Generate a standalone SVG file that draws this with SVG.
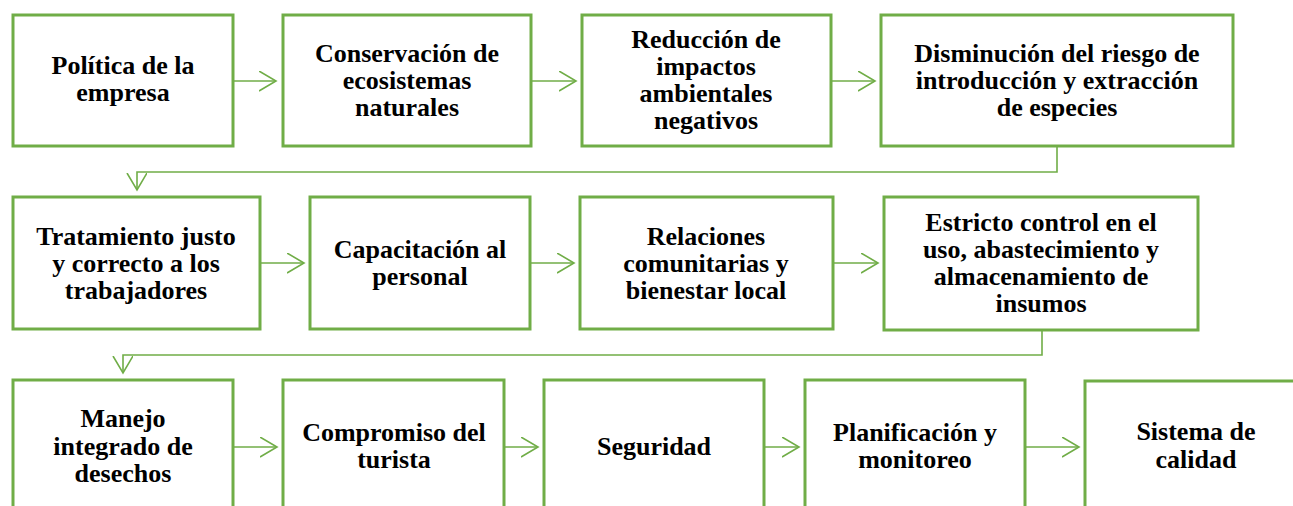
<svg xmlns="http://www.w3.org/2000/svg" width="1293" height="506" viewBox="0 0 1293 506">
<style>
.box{fill:#fff;stroke:#70AD47;stroke-width:3}
.t{font-family:"Liberation Serif","Times New Roman",serif;font-weight:bold;font-size:26px;fill:#000;text-anchor:middle}
.c{fill:none;stroke:#70AD47;stroke-width:1.6}
</style>
<defs>
<marker id="ah" markerUnits="userSpaceOnUse" markerWidth="20" markerHeight="24" refX="17" refY="10" orient="auto" viewBox="0 0 20 24">
<path d="M0,0 L17,10 L0,20" fill="none" stroke="#70AD47" stroke-width="1.6"/>
</marker>
</defs>
<rect width="1293" height="506" fill="#fff"/>
<g id="n1"><rect class="box" x="13" y="15" width="220" height="131"/><text class="t" x="123" y="74">Política de la</text><text class="t" x="123" y="101">empresa</text></g>
<g id="n2"><rect class="box" x="283" y="15" width="248" height="131"/><text class="t" x="407" y="62">Conservación de</text><text class="t" x="407" y="89">ecosistemas</text><text class="t" x="407" y="116">naturales</text></g>
<g id="n3"><rect class="box" x="582" y="15" width="249" height="131"/><text class="t" x="706" y="48">Reducción de</text><text class="t" x="706" y="75">impactos</text><text class="t" x="706" y="102">ambientales</text><text class="t" x="706" y="129">negativos</text></g>
<g id="n4"><rect class="box" x="881" y="15" width="352" height="131"/><text class="t" x="1057" y="62">Disminución del riesgo de</text><text class="t" x="1057" y="89">introducción y extracción</text><text class="t" x="1057" y="116">de especies</text></g>
<g id="n5"><rect class="box" x="13" y="197" width="247" height="132"/><text class="t" x="136" y="245">Tratamiento justo</text><text class="t" x="136" y="272">y correcto a los</text><text class="t" x="136" y="299">trabajadores</text></g>
<g id="n6"><rect class="box" x="310" y="197" width="220" height="132"/><text class="t" x="420" y="258">Capacitación al</text><text class="t" x="420" y="285">personal</text></g>
<g id="n7"><rect class="box" x="580" y="197" width="253" height="132"/><text class="t" x="706" y="245">Relaciones</text><text class="t" x="706" y="272">comunitarias y</text><text class="t" x="706" y="299">bienestar local</text></g>
<g id="n8"><rect class="box" x="884" y="197" width="314" height="133"/><text class="t" x="1041" y="231">Estricto control en el</text><text class="t" x="1041" y="258">uso, abastecimiento y</text><text class="t" x="1041" y="285">almacenamiento de</text><text class="t" x="1041" y="312">insumos</text></g>
<g id="n9"><rect class="box" x="13" y="380" width="220" height="140"/><text class="t" x="123" y="427">Manejo</text><text class="t" x="123" y="455">integrado de</text><text class="t" x="123" y="482">desechos</text></g>
<g id="n10"><rect class="box" x="283" y="380" width="221" height="140"/><text class="t" x="394" y="441">Compromiso del</text><text class="t" x="394" y="468">turista</text></g>
<g id="n11"><rect class="box" x="544" y="380" width="220" height="140"/><text class="t" x="654" y="455">Seguridad</text></g>
<g id="n12"><rect class="box" x="805" y="380" width="220" height="140"/><text class="t" x="915" y="441">Planificación y</text><text class="t" x="915" y="468">monitoreo</text></g>
<g id="n13"><rect class="box" x="1085" y="381" width="230" height="140"/><text class="t" x="1196" y="440">Sistema de</text><text class="t" x="1196" y="468">calidad</text></g>
<g id="connectors">
<path class="c" d="M233,81 H276" marker-end="url(#ah)"/>
<path class="c" d="M531,81 H576" marker-end="url(#ah)"/>
<path class="c" d="M831,81 H875" marker-end="url(#ah)"/>
<path class="c" d="M1057,146 V172 H137 V190" marker-end="url(#ah)"/>
<path class="c" d="M260,263 H304" marker-end="url(#ah)"/>
<path class="c" d="M530,263 H574" marker-end="url(#ah)"/>
<path class="c" d="M833,263 H878" marker-end="url(#ah)"/>
<path class="c" d="M1042,330 V355 H123 V373" marker-end="url(#ah)"/>
<path class="c" d="M233,447 H277" marker-end="url(#ah)"/>
<path class="c" d="M504,447 H538" marker-end="url(#ah)"/>
<path class="c" d="M764,447 H799" marker-end="url(#ah)"/>
<path class="c" d="M1025,447 H1079" marker-end="url(#ah)"/>
</g>
</svg>
